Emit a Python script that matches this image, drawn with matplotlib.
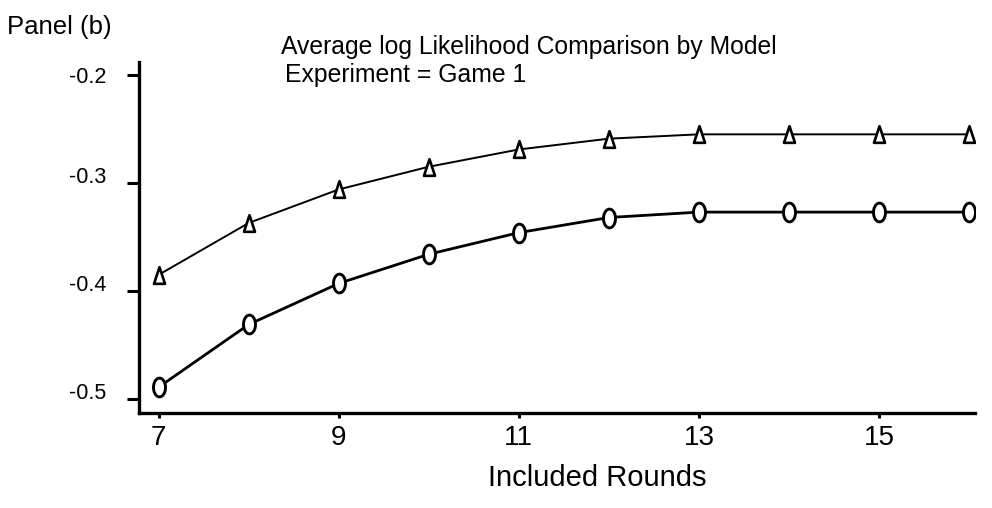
import matplotlib
matplotlib.use('Agg')
import matplotlib.pyplot as plt
import matplotlib.transforms as mtransforms
from matplotlib.path import Path
import numpy as np

plt.rcParams['font.family'] = ['Liberation Sans', 'DejaVu Sans']

# data
rounds = [7, 8, 9, 10, 11, 12, 13, 14, 15, 16]
ll_triangle = [-0.385, -0.337, -0.306, -0.285, -0.269, -0.259, -0.255, -0.255, -0.255, -0.255]
ll_circle = [-0.489, -0.431, -0.393, -0.366, -0.346, -0.332, -0.327, -0.327, -0.327, -0.327]

x_ticks = [7, 9, 11, 13, 15]
y_ticks = [-0.5, -0.4, -0.3, -0.2]
y_tick_labels = ['-0.5', '-0.4', '-0.3', '-0.2']

# narrow markers (the reference draws them taller than wide)
t = np.linspace(0, 2 * np.pi, 60)
ellipse = Path(np.column_stack([0.64 * np.cos(t), np.sin(t)]), closed=True)
tri = Path([(-0.66, -1), (0.66, -1), (0, 1), (-0.66, -1)], closed=True)

fig = plt.figure(figsize=(9.92, 5.08), dpi=100)
ax = fig.add_axes([0.1401, 0.187, 0.843, 0.691])

ax.plot(rounds, ll_triangle, color='black', linewidth=1.4, marker=tri, markersize=12,
        markerfacecolor='white', markeredgecolor='black', markeredgewidth=1.9)
ax.plot(rounds, ll_circle, color='black', linewidth=2.0, marker=ellipse, markersize=13.5,
        markerfacecolor='white', markeredgecolor='black', markeredgewidth=2.1)

ax.set_xlim(6.78, 16.07)
ax.set_ylim(-0.513, -0.188)
ax.set_xticks(x_ticks)
ax.set_yticks(y_ticks)
ax.set_yticklabels(y_tick_labels)

for side in ['top', 'right']:
    ax.spines[side].set_visible(False)
for side in ['left', 'bottom']:
    ax.spines[side].set_linewidth(2.4)

ax.tick_params(axis='y', direction='out', length=8.5, width=2.2, pad=15, labelsize=15.5)
ax.tick_params(axis='x', direction='out', length=3.5, width=2.2, pad=5, labelsize=20)

# y tick labels sit a little above their ticks in the original
for lab, val in zip(ax.get_yticklabels(), y_ticks):
    dy = 0 if val == -0.2 else 8 / 100
    lab.set_transform(lab.get_transform() + mtransforms.ScaledTranslation(0, dy, fig.dpi_scale_trans))

ax.set_xlabel('Included Rounds', fontsize=21)
ax.xaxis.set_label_coords(597 / 992, 1 - 478 / 508, transform=fig.transFigure)
ax.xaxis.label.set_va('center')

fig.text(281 / 992, 1 - 47 / 508, 'Average log Likelihood Comparison by Model', fontsize=17.8,
         ha='left', va='center')
fig.text(285 / 992, 1 - 75 / 508, 'Experiment = Game 1', fontsize=17.8, ha='left', va='center')
fig.text(7 / 992, 1 - 27 / 508, 'Panel (b)', fontsize=18.5, ha='left', va='center')

fig.savefig('out.png', dpi=100)
